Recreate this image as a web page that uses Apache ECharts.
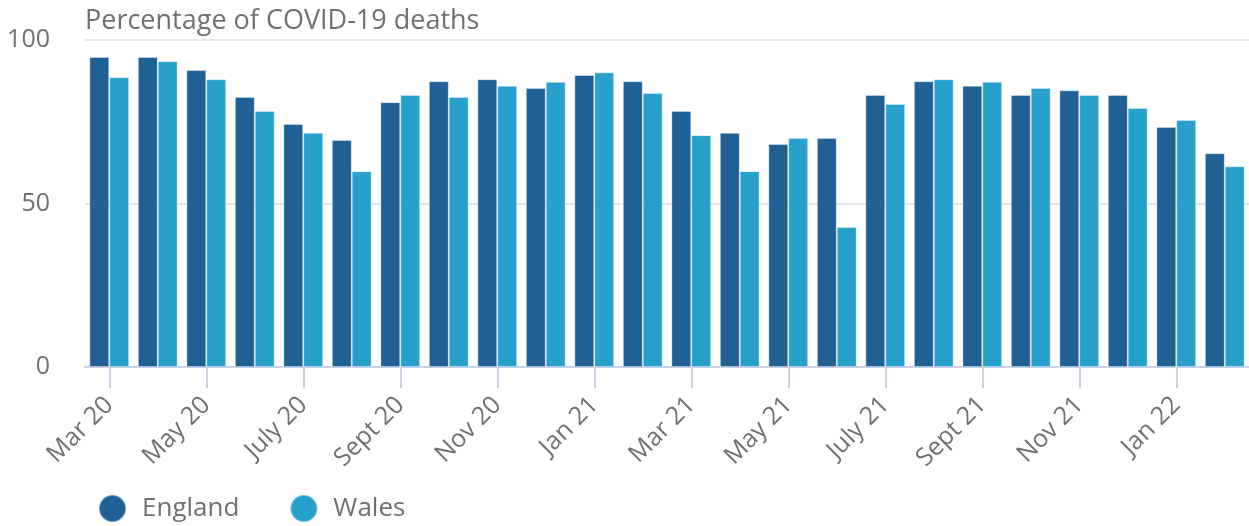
<!DOCTYPE html>
<html>
<head>
<meta charset="utf-8">
<script src="https://cdn.jsdelivr.net/npm/echarts@6/dist/echarts.min.js"></script>
<style>
  html, body { margin: 0; padding: 0; background: #fff; }
  #chart { width: 1249px; height: 526px; }
</style>
</head>
<body>
<div id="chart"></div>
<script>
const months = [
    'Mar 20', 'Apr 20', 'May 20', 'June 20', 'July 20', 'Aug 20',
    'Sept 20', 'Oct 20', 'Nov 20', 'Dec 20', 'Jan 21', 'Feb 21',
    'Mar 21', 'Apr 21', 'May 21', 'June 21', 'July 21', 'Aug 21',
    'Sept 21', 'Oct 21', 'Nov 21', 'Dec 21', 'Jan 22', 'Feb 22'
];

const england = [
    94.8, 94.8, 90.8, 82.6, 74.3, 69.4,
    81.0, 87.4, 88.0, 85.3, 89.3, 87.4,
    78.3, 71.6, 68.2, 70.0, 83.2, 87.4,
    86.0, 83.2, 84.6, 83.2, 73.4, 65.4
];

const wales = [
    88.6, 93.5, 88.0, 78.3, 71.6, 59.9,
    83.2, 82.6, 86.0, 87.2, 90.1, 83.8,
    70.9, 59.9, 70.0, 42.8, 80.4, 88.0,
    87.2, 85.3, 83.2, 79.2, 75.5, 61.4
];

const textColor = '#707070';
const font = '"Open Sans", "Noto Sans", sans-serif';

const chart = echarts.init(document.getElementById('chart'));

chart.setOption({
    animation: false,
    textStyle: { fontFamily: font },
    title: {
        text: 'Percentage of COVID-19 deaths',
        left: 80,
        top: 3,
        textStyle: {
            fontFamily: font,
            fontSize: 27,
            fontWeight: 'normal',
            color: textColor
        }
    },
    legend: {
        left: 93,
        top: 489,
        icon: 'circle',
        itemWidth: 27,
        itemHeight: 27,
        itemGap: 50,
        textStyle: {
            fontFamily: font,
            fontSize: 26,
            color: textColor,
            padding: [0, 0, 0, 11]
        },
        data: ['England', 'Wales']
    },
    grid: {
        left: 85,
        right: 0,
        top: 40,
        bottom: 159,
        containLabel: false
    },
    xAxis: {
        type: 'category',
        data: months,
        axisLine: {
            show: true,
            lineStyle: { color: '#c8d0e4', width: 2 }
        },
        axisTick: {
            show: true,
            alignWithLabel: true,
            interval: 1,
            length: 21,
            lineStyle: { color: '#c8d0e4', width: 2 }
        },
        axisLabel: {
            interval: 1,
            rotate: 45,
            margin: 34,
            fontFamily: font,
            fontSize: 25,
            color: textColor
        }
    },
    yAxis: {
        type: 'value',
        min: 0,
        max: 100,
        interval: 50,
        axisLine: { show: false },
        axisTick: { show: false },
        splitLine: {
            lineStyle: { color: '#e6e6e6', width: 2 }
        },
        axisLabel: {
            margin: 35,
            fontFamily: font,
            fontSize: 25,
            color: textColor
        }
    },
    series: [
        {
            name: 'England',
            type: 'bar',
            data: england,
            barGap: '0%',
            barCategoryGap: '18%',
            itemStyle: {
                color: '#206095',
                borderColor: 'rgba(255,255,255,0.35)',
                borderWidth: 1
            }
        },
        {
            name: 'Wales',
            type: 'bar',
            data: wales,
            itemStyle: {
                color: '#27a0cc',
                borderColor: 'rgba(255,255,255,0.35)',
                borderWidth: 1
            }
        }
    ]
});
</script>
</body>
</html>
